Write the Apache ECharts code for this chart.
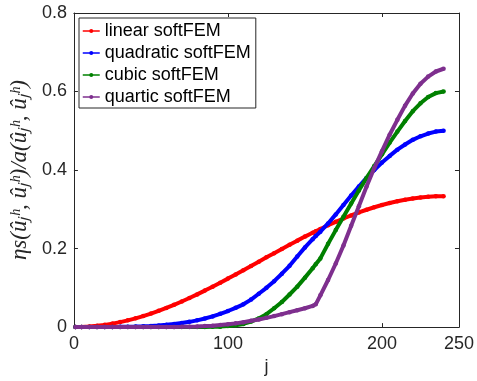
<!DOCTYPE html>
<html>
<head>
<meta charset="utf-8">
<script src="https://cdn.jsdelivr.net/npm/echarts@6/dist/echarts.min.js"></script>
<style>
  html, body { margin: 0; padding: 0; background: #fff; }
  #chart { width: 477px; height: 381px; }
</style>
</head>
<body>
<div id="chart"></div>
<script>
// ---- data ----
const jValues = [1, 5, 10, 15, 20, 25, 30, 35, 40, 45, 50, 55, 60, 65, 70, 75, 80, 85, 90, 95,
  100, 105, 110, 115, 120, 125, 130, 135, 140, 145, 150, 155, 157, 160, 165, 170, 175, 180, 185,
  190, 195, 200, 205, 210, 215, 220, 225, 230, 235, 240];

const linearSoftFEM = [0.0000, 0.0004, 0.0014, 0.0032, 0.0057, 0.0089, 0.0127, 0.0172, 0.0223, 0.0281,
  0.0344, 0.0414, 0.0488, 0.0568, 0.0652, 0.0741, 0.0833, 0.0930, 0.1029, 0.1131,
  0.1235, 0.1342, 0.1449, 0.1558, 0.1667, 0.1776, 0.1884, 0.1992, 0.2098, 0.2202,
  0.2305, 0.2404, 0.2443, 0.2500, 0.2593, 0.2681, 0.2766, 0.2845, 0.2920,
  0.2989, 0.3053, 0.3110, 0.3162, 0.3207, 0.3245, 0.3277, 0.3301, 0.3319, 0.3330, 0.3333];

const quadraticSoftFEM = [0, 0, 0.0000, 0.0001, 0.0002, 0.0004, 0.0006, 0.0010, 0.0015, 0.0022,
  0.0030, 0.0042, 0.0058, 0.0078, 0.0103, 0.0134, 0.0172, 0.0218, 0.0273, 0.0337,
  0.0410, 0.0490, 0.0580, 0.0700, 0.0850, 0.1000, 0.1170, 0.1360, 0.1560, 0.1800,
  0.2030, 0.2240, 0.2320, 0.2430, 0.2640, 0.2870, 0.3110, 0.3350, 0.3580,
  0.3800, 0.4000, 0.4190, 0.4360, 0.4520, 0.4650, 0.4770, 0.4860, 0.4930, 0.4980, 0.5000];

const cubicSoftFEM = [0, 0, 0, 0, 0, 0, 0, 0, 0, 0,
  0, 0, 0, 0, 0, 0, 0.0001, 0.0003, 0.0006, 0.0012,
  0.0025, 0.0045, 0.0080, 0.0140, 0.0220, 0.0330, 0.0480, 0.0640, 0.0830, 0.1030,
  0.1260, 0.1500, 0.1600, 0.1750, 0.2120, 0.2470, 0.2810, 0.3150, 0.3480,
  0.3800, 0.4100, 0.4400, 0.4700, 0.4980, 0.5250, 0.5500, 0.5700, 0.5860, 0.5960, 0.6000];

const quarticSoftFEM = [0, 0, 0, 0, 0, 0, 0, 0, 0, 0,
  0, 0, 0.0001, 0.0003, 0.0006, 0.0010, 0.0016, 0.0025, 0.0037, 0.0052,
  0.0070, 0.0095, 0.0125, 0.0160, 0.0195, 0.0235, 0.0280, 0.0330, 0.0380, 0.0430,
  0.0480, 0.0540, 0.0580, 0.0810, 0.1200, 0.1620, 0.2080, 0.2580, 0.3080,
  0.3580, 0.4050, 0.4480, 0.4900, 0.5280, 0.5640, 0.5950, 0.6200, 0.6380, 0.6510, 0.6580];

const seriesNames = ['linear softFEM', 'quadratic softFEM', 'cubic softFEM', 'quartic softFEM'];
const seriesValues = [linearSoftFEM, quadraticSoftFEM, cubicSoftFEM, quarticSoftFEM];
const seriesColors = ['#ff0000', '#0000ff', '#008000', '#7e2f8e'];

const xTickValues = [0, 100, 200, 250];
const xTopTickValues = [100, 200];
const yTickValues = [0, 0.2, 0.4, 0.6, 0.8];

// ---- chart ----
const axisColor = '#262626';
const chart = echarts.init(document.getElementById('chart'), null, { renderer: 'canvas' });

const series = seriesNames.map((name, k) => ({
  name: name,
  type: 'line',
  xAxisIndex: 0,
  yAxisIndex: 0,
  data: jValues.map((j, i) => [j, seriesValues[k][i]]),
  symbol: 'circle',
  symbolSize: 4.5,
  showSymbol: true,
  color: seriesColors[k],
  lineStyle: { width: 4, color: seriesColors[k] },
  itemStyle: { color: seriesColors[k] },
  z: 2 + k
}));

chart.setOption({
  animation: false,
  backgroundColor: '#ffffff',
  grid: { left: 73, right: 16, top: 13, bottom: 44, containLabel: false },
  legend: {
    data: seriesNames,
    orient: 'vertical',
    left: 79,
    top: 18,
    itemWidth: 17,
    itemHeight: 5,
    itemGap: 4,
    padding: [4, 5, 2, 3],
    borderColor: axisColor,
    borderWidth: 1,
    backgroundColor: '#ffffff',
    lineStyle: { width: 1.5 },
    textStyle: { fontSize: 18, fontFamily: 'Liberation Sans', color: '#000000' }
  },
  xAxis: [{
    type: 'value',
    position: 'bottom',
    min: 0, max: 250,
    axisLine: { show: true, onZero: false, lineStyle: { color: axisColor, width: 1 } },
    axisTick: { show: true, inside: true, length: 4, customValues: xTickValues, lineStyle: { color: axisColor } },
    axisLabel: { customValues: xTickValues, fontSize: 18, fontFamily: 'Liberation Sans', color: axisColor, margin: 8 },
    splitLine: { show: false },
    name: 'j',
    nameLocation: 'middle',
    nameGap: 30,
    nameTextStyle: { fontSize: 18, fontFamily: 'Liberation Sans', color: axisColor }
  }, {
    type: 'value',
    position: 'top',
    min: 0, max: 250,
    axisLine: { show: true, onZero: false, lineStyle: { color: axisColor, width: 1 } },
    axisTick: { show: true, inside: true, length: 4, customValues: xTopTickValues, lineStyle: { color: axisColor } },
    axisLabel: { show: false },
    splitLine: { show: false }
  }],
  yAxis: [{
    type: 'value',
    position: 'left',
    min: 0, max: 0.8, interval: 0.2,
    axisLine: { show: true, onZero: false, lineStyle: { color: axisColor, width: 1 } },
    axisTick: { show: true, inside: true, length: 4, customValues: yTickValues, lineStyle: { color: axisColor } },
    axisLabel: { customValues: yTickValues, fontSize: 18, fontFamily: 'Liberation Sans', color: axisColor, margin: 7 },
    splitLine: { show: false },
    name: 'ηs(ûⱼʰ, ûⱼʰ)/a(ûⱼʰ, ûⱼʰ)',
    nameLocation: 'middle',
    nameRotate: 90,
    nameGap: 34,
    nameTextStyle: { fontSize: 23, fontFamily: 'Liberation Serif', fontStyle: 'italic', color: axisColor }
  }, {
    type: 'value',
    position: 'right',
    min: 0, max: 0.8, interval: 0.2,
    axisLine: { show: true, onZero: false, lineStyle: { color: axisColor, width: 1 } },
    axisTick: { show: true, inside: true, length: 4, customValues: [0.2, 0.4, 0.6], lineStyle: { color: axisColor } },
    axisLabel: { show: false },
    splitLine: { show: false }
  }],
  series: series
});
</script>
</body>
</html>
